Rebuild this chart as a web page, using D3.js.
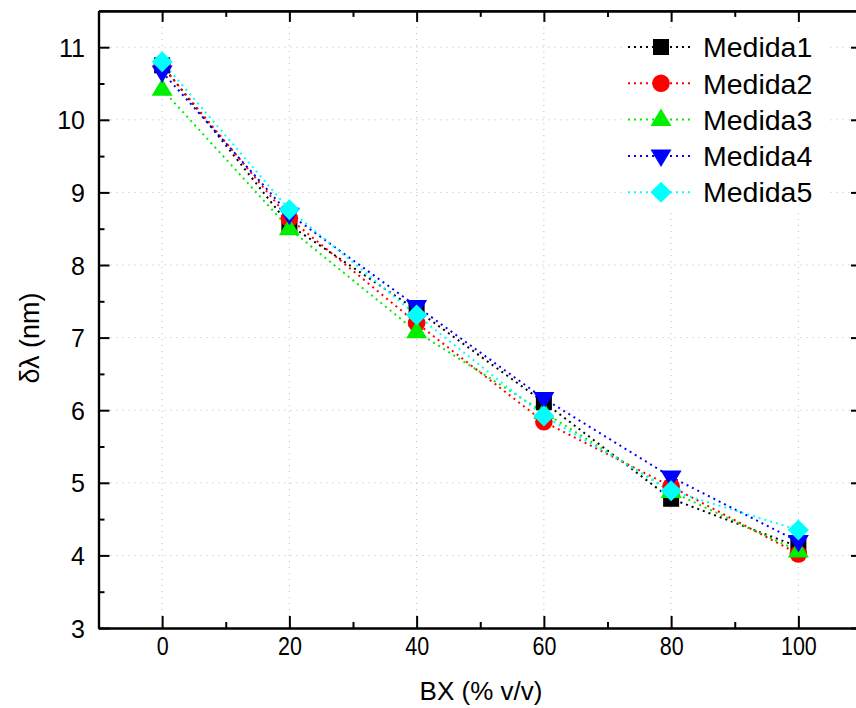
<!DOCTYPE html>
<html><head><meta charset="utf-8">
<script src="https://cdn.jsdelivr.net/npm/d3@7"></script>
<style>body{margin:0;background:#fff}svg{display:block;font-family:"Liberation Sans",Arial,sans-serif}</style>
</head><body><svg id="c" width="856" height="708"></svg>
<script>
const xValues = [0, 20, 40, 60, 80, 100];
const seriesNames = ["Medida1","Medida2","Medida3","Medida4","Medida5"];
const medida1 = [10.75, 8.55, 7.38, 6.11, 4.78, 4.12];
const medida2 = [10.74, 8.64, 7.20, 5.84, 4.95, 4.02];
const medida3 = [10.42, 8.50, 7.08, 5.97, 4.88, 4.06];
const medida4 = [10.66, 8.70, 7.43, 6.16, 5.08, 4.19];
const medida5 = [10.80, 8.76, 7.31, 5.92, 4.89, 4.35];
const colors = ["#000000","#ff0000","#00ee00","#0000ff","#00ffff"];
const shapes = ["square","circle","triangleUp","triangleDown","diamond"];
const xTicks = [0,20,40,60,80,100];
const yTicks = [3,4,5,6,7,8,9,10,11];
const allSeries = [medida1, medida2, medida3, medida4, medida5];

const svg = d3.select("#c");
const x = d3.scaleLinear().domain([-10,110]).range([98.5, 862]);
const y = d3.scaleLinear().domain([3,11.5]).range([628, 10.9]);

// gridlines
const grid = svg.append("g");
grid.selectAll("line.gx").data(xTicks).enter().append("line")
  .attr("x1",d=>x(d)).attr("x2",d=>x(d)).attr("y1",y(3)).attr("y2",y(11.5))
  .attr("stroke","#bcbcbc").attr("stroke-width",1).attr("stroke-dasharray","1,5");
grid.selectAll("line.gy").data(yTicks.slice(1)).enter().append("line")
  .attr("x1",x(-10)).attr("x2",x(110)).attr("y1",d=>y(d)).attr("y2",d=>y(d))
  .attr("stroke","#bcbcbc").attr("stroke-width",1).attr("stroke-dasharray","1,5");

// axes
const xMinor = d3.range(-10,111,10).filter(v=>v%20!==0);
const yMinor = d3.range(3.5,11.5,1);
function axisG(axis, tr){ const g = svg.append("g").attr("transform",tr); g.call(axis); return g; }
const bottom = axisG(d3.axisBottom(x).tickValues(xTicks).tickSizeInner(-12).tickSizeOuter(0).tickPadding(9).tickFormat(d3.format("d")), `translate(0,${y(3)})`);
axisG(d3.axisBottom(x).tickValues(xMinor).tickSizeInner(-6).tickSizeOuter(0).tickFormat(""), `translate(0,${y(3)})`);
axisG(d3.axisTop(x).tickValues(xTicks).tickSizeInner(-11).tickSizeOuter(0).tickFormat(""), `translate(0,${y(11.5)})`);
axisG(d3.axisTop(x).tickValues(xMinor).tickSizeInner(-6).tickSizeOuter(0).tickFormat(""), `translate(0,${y(11.5)})`);
const left = axisG(d3.axisLeft(y).tickValues(yTicks).tickSizeInner(-11).tickSizeOuter(0).tickPadding(13.5).tickFormat(d3.format("d")), `translate(${x(-10)},0)`);
axisG(d3.axisLeft(y).tickValues(yMinor).tickSizeInner(-6).tickSizeOuter(0).tickFormat(""), `translate(${x(-10)},0)`);
axisG(d3.axisRight(y).tickValues(yTicks).tickSizeInner(-11).tickSizeOuter(0).tickFormat(""), `translate(${x(110)},0)`);
axisG(d3.axisRight(y).tickValues(yMinor).tickSizeInner(-6).tickSizeOuter(0).tickFormat(""), `translate(${x(110)},0)`);
svg.selectAll(".domain").attr("stroke","#000").attr("stroke-width",2.2);
svg.selectAll(".tick line").attr("stroke","#000").attr("stroke-width",2);
left.attr("font-family","Liberation Sans, Arial, sans-serif");
bottom.attr("font-family","Liberation Sans, Arial, sans-serif");
left.selectAll(".tick text").attr("fill","#000").style("font-size","25px").attr("dy","0.36em");
bottom.selectAll(".tick text").attr("fill","#000").style("font-size","25px").attr("text-anchor","middle")
  .attr("transform","scale(0.86,1)");

// axis titles
svg.append("text").attr("x",481).attr("y",700).attr("text-anchor","middle")
  .attr("font-size",26).text("BX (% v/v)");
svg.append("text").attr("transform",`translate(39,${338}) rotate(-90)`).attr("text-anchor","middle")
  .attr("font-size",27).text("δλ (nm)");

// symbol helper
function marker(g, shape, cx, cy, color){
  if(shape==="square") g.append("rect").attr("x",cx-8).attr("y",cy-8).attr("width",16).attr("height",16).attr("fill",color);
  else if(shape==="circle") g.append("circle").attr("cx",cx).attr("cy",cy).attr("r",8.8).attr("fill",color);
  else if(shape==="triangleUp") g.append("path").attr("d",`M${cx},${cy-11}L${cx+10.5},${cy+6.5}L${cx-10.5},${cy+6.5}Z`).attr("fill",color);
  else if(shape==="triangleDown") g.append("path").attr("d",`M${cx},${cy+11}L${cx+10.5},${cy-6.5}L${cx-10.5},${cy-6.5}Z`).attr("fill",color);
  else if(shape==="diamond") g.append("path").attr("d",`M${cx},${cy-10.5}L${cx+10.5},${cy}L${cx},${cy+10.5}L${cx-10.5},${cy}Z`).attr("fill",color);
}

// lines
const line = d3.line().x((d,i)=>x(xValues[i])).y(d=>y(d));
allSeries.forEach((s,k)=>{
  svg.append("path").attr("d",line(s)).attr("fill","none").attr("stroke",colors[k])
    .attr("stroke-width",2).attr("stroke-dasharray","2,4");
});
allSeries.forEach((s,k)=>{
  const g=svg.append("g");
  s.forEach((v,i)=>marker(g,shapes[k],x(xValues[i]),y(v),colors[k]));
});

// legend
const lg = svg.append("g");
lg.append("rect").attr("x",626).attr("y",29).attr("width",200).attr("height",182).attr("fill","#fff");
seriesNames.forEach((n,k)=>{
  const cy = 47 + k*36.3;
  lg.append("line").attr("x1",628).attr("x2",694).attr("y1",cy).attr("y2",cy)
    .attr("stroke",colors[k]).attr("stroke-width",2).attr("stroke-dasharray","2,4");
  marker(lg, shapes[k], 661, cy, colors[k]);
  lg.append("text").attr("x",703).attr("y",cy).attr("dy","0.36em").attr("font-size",28.5).text(n);
});
</script></body></html>
